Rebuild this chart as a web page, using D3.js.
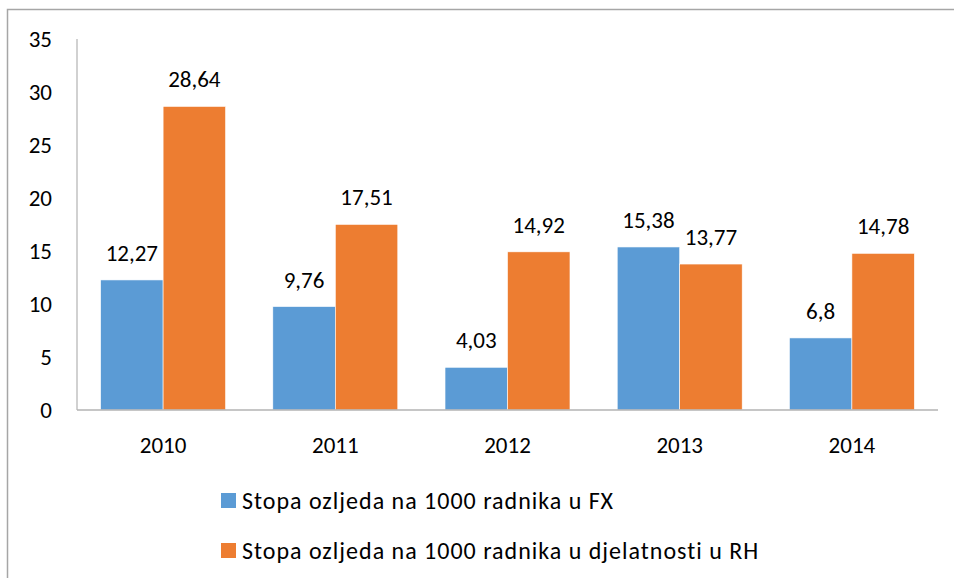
<!DOCTYPE html>
<html>
<head>
<meta charset="utf-8">
<script src="https://cdn.jsdelivr.net/npm/d3@7"></script>
<style>
  body { margin: 0; background: #fff; }
  svg text { font-family: Carlito, Lato, "Open Sans", sans-serif; fill: #000; }
</style>
</head>
<body>
<svg width="954" height="578"></svg>
<script>
var years = ["2010", "2011", "2012", "2013", "2014"];
var seriesNames = ["Stopa ozljeda na 1000 radnika u FX", "Stopa ozljeda na 1000 radnika u djelatnosti u RH"];
var fxValues = [12.27, 9.76, 4.03, 15.38, 6.8];
var rhValues = [28.64, 17.51, 14.92, 13.77, 14.78];
var yTicks = [0, 5, 10, 15, 20, 25, 30, 35];
var colors = ["#5B9BD5", "#ED7D31"];

var svg = d3.select("svg"),
    fontSize = 23;

var data = years.map(function(y, i) {
  return { year: y, values: [fxValues[i], rhValues[i]] };
});

// chart frame (cropped on the right and bottom)
svg.append("rect")
    .attr("x", 7.5).attr("y", 9.5)
    .attr("width", 1000).attr("height", 700)
    .attr("fill", "none")
    .attr("stroke", "#a6a6a6")
    .attr("stroke-width", 1.5);

var x0 = d3.scaleBand().domain(years).range([77, 938]).padding(0);
var x1 = d3.scaleBand().domain([0, 1]).range([0, x0.bandwidth()]).paddingInner(0).paddingOuter(0.378);
var y = d3.scaleLinear().domain([0, 35]).range([410, 39]);

// y axis labels
svg.append("g")
  .selectAll("text")
  .data(yTicks)
  .enter().append("text")
    .attr("x", 52)
    .attr("y", function(d) { return y(d); })
    .attr("dy", "0.36em")
    .attr("text-anchor", "end")
    .style("font-size", fontSize + "px")
    .text(function(d) { return d; });

// y axis line
svg.append("line")
    .attr("x1", 77).attr("x2", 77)
    .attr("y1", y(35)).attr("y2", y(0))
    .attr("stroke", "#b3b3b3")
    .attr("stroke-width", 1.2);

// bars
var group = svg.append("g")
  .selectAll("g")
  .data(data)
  .enter().append("g")
    .attr("transform", function(d) { return "translate(" + x0(d.year) + ",0)"; });

group.selectAll("rect")
  .data(function(d) { return d.values; })
  .enter().append("rect")
    .attr("x", function(d, i) { return x1(i); })
    .attr("y", function(d) { return y(d); })
    .attr("width", x1.bandwidth())
    .attr("height", function(d) { return y(0) - y(d); })
    .attr("fill", function(d, i) { return colors[i]; })
    .attr("stroke", "#fff")
    .attr("stroke-width", 0.6);

group.selectAll("text")
  .data(function(d) { return d.values; })
  .enter().append("text")
    .attr("x", function(d, i) { return x1(i) + x1.bandwidth() / 2; })
    .attr("y", function(d) { return y(d) - 19; })
    .attr("text-anchor", "middle")
    .style("font-size", fontSize + "px")
    .text(function(d) { return String(d).replace(".", ","); });

// x axis
svg.append("line")
    .attr("x1", 77).attr("x2", 938)
    .attr("y1", y(0)).attr("y2", y(0))
    .attr("stroke", "#b3b3b3")
    .attr("stroke-width", 1.6);

svg.append("g")
  .selectAll("text")
  .data(years)
  .enter().append("text")
    .attr("x", function(d) { return x0(d) + x0.bandwidth() / 2; })
    .attr("y", 453)
    .attr("text-anchor", "middle")
    .style("font-size", fontSize + "px")
    .text(function(d) { return d; });

// legend
var legend = svg.append("g")
  .selectAll("g")
  .data(seriesNames)
  .enter().append("g")
    .attr("transform", function(d, i) { return "translate(221," + (493 + i * 50) + ")"; });

legend.append("rect")
    .attr("width", 15).attr("height", 15)
    .attr("fill", function(d, i) { return colors[i]; });

legend.append("text")
    .attr("x", 21)
    .attr("y", 16)
    .style("font-size", "24px")
    .style("letter-spacing", "1px")
    .text(function(d) { return d; });
</script>
</body>
</html>
